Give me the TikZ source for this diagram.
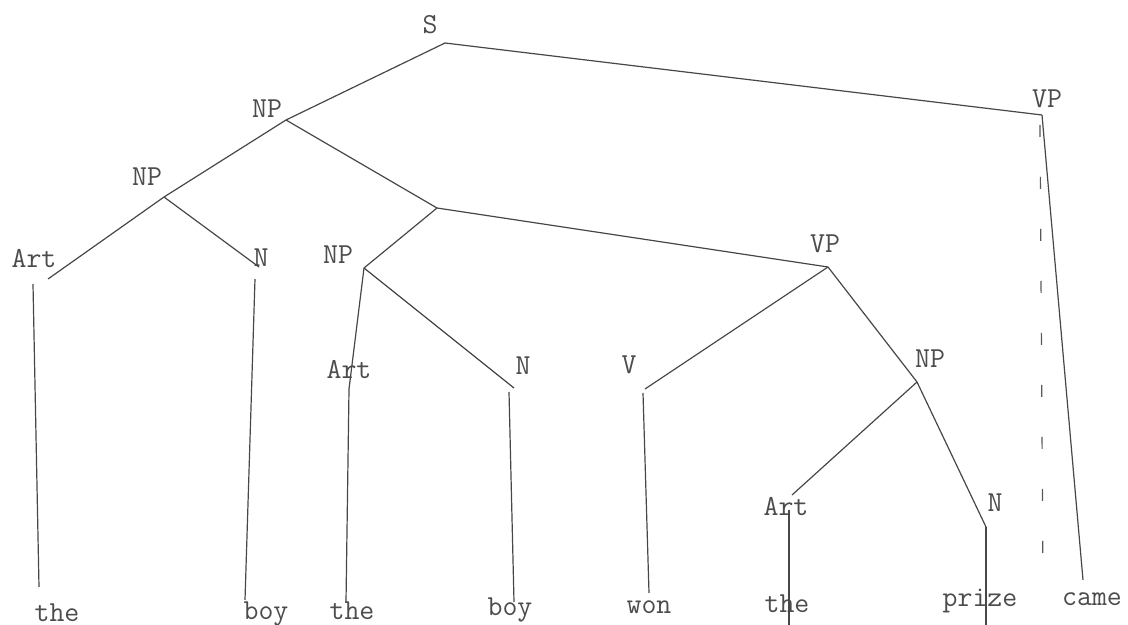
\documentclass[tikz,border=0pt]{standalone}
\begin{document}
\begin{tikzpicture}[x=0.5pt,y=-0.5pt,
  lbl/.style={font=\ttfamily\fontsize{14.5}{15}\selectfont, text=black!70, inner sep=0pt},
  word/.style={lbl, anchor=base},
  branch/.style={draw=black!72, line width=0.6pt},
  trace/.style={draw=black!65, line width=0.6pt, dash pattern=on 6pt off 20pt}]
\useasboundingbox (0,0) rectangle (1128,625);

% category labels
\node[lbl] (S)    at (430,25)  {S};
\node[lbl] (VPa)  at (1047,99) {VP};
\node[lbl] (NPa)  at (267,109) {NP};
\node[lbl] (NPb)  at (147,177) {NP};
\node[lbl] (Arta) at (34,259)  {Art};
\node[lbl] (Na)   at (261,258) {N};
\node[lbl] (NPc)  at (338,255) {NP};
\node[lbl] (VPb)  at (825,244) {VP};
\node[lbl] (Artb) at (349,370) {Art};
\node[lbl] (Nb)   at (523,366) {N};
\node[lbl] (V)    at (629,365) {V};
\node[lbl] (NPd)  at (930,359) {NP};
\node[lbl] (Artc) at (786,507) {Art};
\node[lbl] (Nc)   at (995,503) {N};

% terminal words
\node[word] (w1) at (57,621)   {the};
\node[word] (w2) at (266,619)  {boy};
\node[word] (w3) at (352,619)  {the};
\node[word] (w4) at (510,615)  {boy};
\node[word] (w5) at (649,613)  {won};
\node[word] (w6) at (787,612)  {the};
\node[word] (w7) at (980,606)  {prize};
\node[word] (w8) at (1092,605) {came};

% branching points
\coordinate (s)    at (445,43);
\coordinate (vpa)  at (1042,115);
\coordinate (npa)  at (286,120);
\coordinate (npb)  at (164,197);
\coordinate (arta) at (48,279);
\coordinate (na)   at (259,267);
\coordinate (j)    at (437,208);
\coordinate (npc)  at (364,268);
\coordinate (vpb)  at (828,267);
\coordinate (artb) at (349,389);
\coordinate (nb)   at (514,388);
\coordinate (v)    at (645,389);
\coordinate (npd)  at (917,382);
\coordinate (artc) at (792,495);
\coordinate (nc)   at (986,527);

% ends of the lexical stems
\coordinate (a1t) at (33,284);  \coordinate (a1b) at (39,587);
\coordinate (b1t) at (255,279); \coordinate (b1b) at (245,600);
\coordinate (a2b) at (346,602);
\coordinate (b2t) at (509,392); \coordinate (b2b) at (514,602);
\coordinate (vt)  at (643,393); \coordinate (vb)  at (649,593);
\coordinate (a3t) at (789,510); \coordinate (a3b) at (789,625);
\coordinate (n3b) at (986,625);
\coordinate (cb)  at (1083,580);
\coordinate (dt)  at (1040,125); \coordinate (db) at (1043,585);

% tree branches
\draw[branch] (s) -- (vpa);
\draw[branch] (s) -- (npa);
\draw[branch] (npa) -- (npb);
\draw[branch] (npa) -- (j);
\draw[branch] (npb) -- (arta);
\draw[branch] (npb) -- (na);
\draw[branch] (j) -- (npc);
\draw[branch] (j) -- (vpb);
\draw[branch] (npc) -- (artb);
\draw[branch] (npc) -- (nb);
\draw[branch] (vpb) -- (v);
\draw[branch] (vpb) -- (npd);
\draw[branch] (npd) -- (artc);
\draw[branch] (npd) -- (nc);

% lexical stems
\draw[branch] (a1t) -- (a1b);
\draw[branch] (b1t) -- (b1b);
\draw[branch] (artb) -- (a2b);
\draw[branch] (b2t) -- (b2b);
\draw[branch] (vt) -- (vb);
\draw[branch] (a3t) -- (a3b);
\draw[branch] (nc) -- (n3b);
\draw[branch] (vpa) -- (cb);
\draw[trace] (dt) -- (db);
\end{tikzpicture}
\end{document}
